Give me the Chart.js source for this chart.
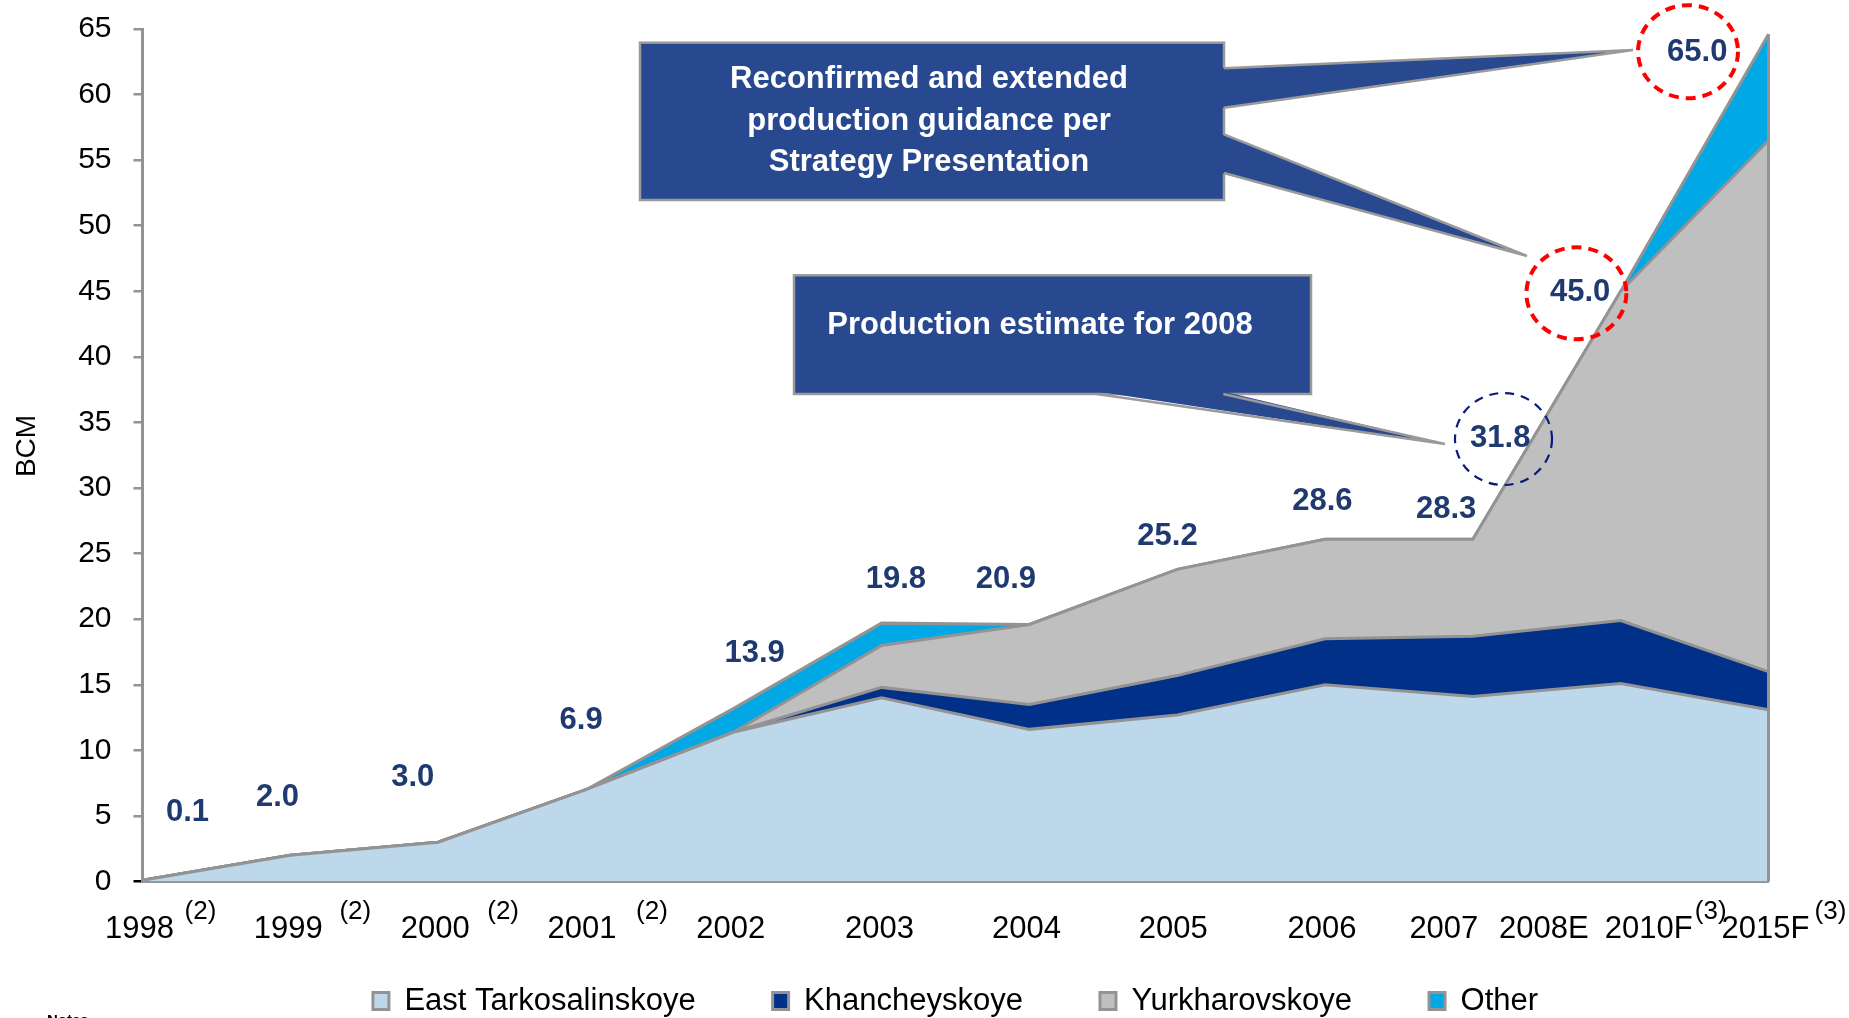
<!DOCTYPE html>
<html>
<head>
<meta charset="utf-8">
<title>Production (BCM)</title>
<script src="https://cdn.jsdelivr.net/npm/chart.js@4.4.1/dist/chart.umd.min.js"></script>
<style>
html,body{margin:0;padding:0;background:#ffffff;overflow:hidden;}
#c{display:block;}
</style>
</head>
<body>
<canvas id="c" width="1849" height="1018" style="width:1849px;height:1018px"></canvas>
<script>
// ---------------- data ----------------
const categories = ['1998','1999','2000','2001','2002','2003','2004','2005','2006','2007','2010F','2015F'];
const eastTarkosalinskoye = [0.1, 2.0, 3.0, 7.0, 11.4, 14.0, 11.6, 12.7, 15.0, 14.1, 15.1, 13.1];
const khancheyskoye       = [0, 0, 0, 0, 0, 0.8, 1.9, 3.0, 3.5, 4.6, 4.8, 2.9];
const yurkharovskoye      = [0, 0, 0, 0, 0, 3.2, 6.1, 8.1, 7.6, 7.4, 25.1, 40.5];
const other               = [0, 0, 0, 0, 1.8, 1.7, 0, 0, 0, 0, 0, 8.1];
const seriesNames = ['East Tarkosalinskoye', 'Khancheyskoye', 'Yurkharovskoye', 'Other'];

// axis tick labels (2008E sits between 2007 and 2010F)
const axisLabels    = ['1998','1999','2000','2001','2002','2003','2004','2005','2006','2007','2008E','2010F','2015F'];
const axisLabelAt   = [0, 1, 2, 3, 4, 5, 6, 7, 8, 9, 9.5, 10, 11];
const axisFootnotes = ['(2)','(2)','(2)','(2)','','','','','','','','(3)','(3)'];
const yMin = 0, yMax = 65, yStep = 5;
const yTitle = 'BCM';

// reported totals written above the areas
const totalLabels = ['0.1','2.0','3.0','6.9','13.9','19.8','20.9','25.2','28.6','28.3','31.8','45.0','65.0'];

// ---------------- layout / style ----------------
const FONT = '"Liberation Sans", Arial, Helvetica, sans-serif';
const LINE_GRAY = '#939393';
const EDGE_GRAY = '#9a9a9a';
const LABEL_NAVY = '#1F3A70';
const BOX_NAVY = '#28488F';
const COLORS = ['#BDD7EB', '#003087', '#BFBFBF', '#00A9E6'];

const PAD_TOP = 29, PLOT_BOTTOM = 881.5, Y_AXIS_W = 142.5, RIGHT_PAD = 80.5;
const LEGEND_H = 60, LEGEND_CY = 1001, LEGEND_FS = 31, LEGEND_PAD = 77;

const axisLabelShift = [-3,-2,-3,-4,-3,-2,-3,-4,-3,-29,-3,28,-3];
const footShift      = [61,67,68,70,0,0,0,0,0,0,0,62,65];
// label anchors in (category index, value) space
const totalLabelAnchor = [
  [0.304, 5.3], [0.913, 6.4], [1.828, 7.9], [2.967, 12.3], [4.141, 17.4],
  [5.097, 23.0], [5.841, 23.0], [6.934, 26.3], [7.982, 29.0], [8.819, 28.4],
  [9.185, 33.8], [9.726, 44.9], [10.518, 63.2]
];

// ---------------- plugins ----------------
const legendPlace = {
  id: 'legendPlace',
  afterLayout(chart) {
    const lg = chart.legend;
    if (!lg) return;
    lg.top = LEGEND_CY - LEGEND_FS / 2 - LEGEND_PAD;
    lg.bottom = chart.height;
  }
};

const edgeLine = {
  id: 'edgeLine',
  afterDatasetsDraw(chart) {
    const {ctx, scales: {x, y}} = chart;
    const last = categories.length - 1;
    const total = eastTarkosalinskoye[last] + khancheyskoye[last] + yurkharovskoye[last] + other[last];
    const px = x.getPixelForValue(last);
    ctx.save();
    ctx.strokeStyle = LINE_GRAY;
    ctx.lineWidth = 3;
    ctx.beginPath();
    ctx.moveTo(px, y.getPixelForValue(0));
    ctx.lineTo(px, y.getPixelForValue(total));
    ctx.stroke();
    ctx.restore();
  }
};

const axisText = {
  id: 'axisText',
  afterDraw(chart) {
    const {ctx, scales: {x}} = chart;
    ctx.save();
    ctx.fillStyle = '#000000';
    ctx.textBaseline = 'middle';
    ctx.textAlign = 'center';
    axisLabels.forEach((lab, i) => {
      const cx = x.getPixelForValue(axisLabelAt[i]) + axisLabelShift[i];
      ctx.font = '31px ' + FONT;
      ctx.fillText(lab, cx, 929.5);
      if (axisFootnotes[i]) {
        ctx.font = '26px ' + FONT;
        ctx.fillText(axisFootnotes[i], cx + footShift[i], 912);
      }
    });
    // y-axis title
    ctx.save();
    ctx.translate(27, 446);
    ctx.rotate(-Math.PI / 2);
    ctx.font = '28px ' + FONT;
    ctx.fillText(yTitle, 0, 0);
    ctx.restore();
    // cut-off notes line at the very bottom
    ctx.textAlign = 'left';
    ctx.textBaseline = 'top';
    ctx.font = 'bold 15px ' + FONT;
    ctx.fillText('Notes', 47, 1013);
    ctx.restore();
  }
};

function wedge(ctx, a, b, tip, inset) {
  ctx.beginPath();
  ctx.moveTo(a[0] - inset[0], a[1] - inset[1]);
  ctx.lineTo(tip[0], tip[1]);
  ctx.lineTo(b[0] - inset[0], b[1] - inset[1]);
  ctx.closePath();
  ctx.fillStyle = BOX_NAVY;
  ctx.fill();
  ctx.beginPath();
  ctx.moveTo(a[0], a[1]); ctx.lineTo(tip[0], tip[1]);
  ctx.moveTo(b[0], b[1]); ctx.lineTo(tip[0], tip[1]);
  ctx.strokeStyle = EDGE_GRAY;
  ctx.lineWidth = 2.5;
  ctx.stroke();
}

function dashedEllipse(ctx, cx, cy, rx, ry, color, lw, dash) {
  ctx.beginPath();
  ctx.setLineDash(dash);
  ctx.ellipse(cx, cy, rx, ry, 0, 0, Math.PI * 2);
  ctx.strokeStyle = color;
  ctx.lineWidth = lw;
  ctx.stroke();
  ctx.setLineDash([]);
}

const annotations = {
  id: 'annotations',
  afterDraw(chart) {
    const {ctx, scales: {x, y}} = chart;
    ctx.save();
    // callout boxes
    ctx.lineWidth = 2.5;
    ctx.strokeStyle = EDGE_GRAY;
    ctx.fillStyle = BOX_NAVY;
    ctx.fillRect(640, 42.7, 584, 157.3);
    ctx.strokeRect(640, 42.7, 584, 157.3);
    ctx.fillRect(794, 275.3, 517, 118.7);
    ctx.strokeRect(794, 275.3, 517, 118.7);
    // pointers
    wedge(ctx, [1224, 68.3], [1224, 107.7], [1633, 50], [2.5, 0]);
    wedge(ctx, [1224, 134.3], [1224, 173], [1527, 256], [2.5, 0]);
    wedge(ctx, [1096.7, 394], [1223.3, 394], [1445, 444], [0, 2.5]);
    // callout text
    ctx.fillStyle = '#ffffff';
    ctx.font = 'bold 31px ' + FONT;
    ctx.textAlign = 'center';
    ctx.textBaseline = 'middle';
    ctx.fillText('Reconfirmed and extended', 929, 79.5);
    ctx.fillText('production guidance per', 929, 121);
    ctx.fillText('Strategy Presentation', 929, 162.5);
    ctx.fillText('Production estimate for 2008', 1040, 325);
    // highlight circles
    dashedEllipse(ctx, 1503.5, 439, 48.5, 46, '#0A1A80', 2.2, [9, 7]);
    dashedEllipse(ctx, 1576.4, 293.3, 50, 46, '#FF0000', 4, [10, 7]);
    dashedEllipse(ctx, 1688, 51.7, 50, 46.5, '#FF0000', 4, [10, 7]);
    // totals
    ctx.fillStyle = LABEL_NAVY;
    ctx.font = 'bold 31px ' + FONT;
    totalLabels.forEach((t, i) => {
      const [ix, v] = totalLabelAnchor[i];
      ctx.fillText(t, x.getPixelForValue(ix), y.getPixelForValue(v));
    });
    ctx.restore();
  }
};

// ---------------- chart ----------------
const seriesData = [eastTarkosalinskoye, khancheyskoye, yurkharovskoye, other];

new Chart(document.getElementById('c'), {
  type: 'line',
  data: {
    labels: categories,
    datasets: seriesData.map((d, i) => ({
      label: seriesNames[i],
      data: d,
      backgroundColor: COLORS[i],
      borderColor: LINE_GRAY,
      borderWidth: 3,
      fill: i === 0 ? 'origin' : '-1',
      pointRadius: 0,
      tension: 0
    }))
  },
  options: {
    responsive: false,
    animation: false,
    devicePixelRatio: 1,
    events: [],
    layout: { padding: { top: PAD_TOP, right: RIGHT_PAD, left: 0, bottom: 0 } },
    plugins: {
      tooltip: { enabled: false },
      legend: {
        display: true,
        position: 'bottom',
        fullSize: false,
        maxHeight: LEGEND_H,
        labels: {
          boxWidth: 16,
          boxHeight: 17,
          padding: LEGEND_PAD,
          color: '#000000',
          font: { size: LEGEND_FS, family: FONT }
        }
      }
    },
    scales: {
      x: {
        type: 'category',
        offset: false,
        grid: { display: false },
        border: { display: true, color: LINE_GRAY, width: 3 },
        ticks: { display: false },
        afterFit(s) { s.height = 1018 - LEGEND_H - PLOT_BOTTOM; }
      },
      y: {
        stacked: true,
        min: yMin,
        max: yMax,
        ticks: { stepSize: yStep, color: '#000000', padding: 22, font: { size: 30, family: FONT } },
        grid: {
          drawOnChartArea: false,
          drawTicks: true,
          tickLength: 9,
          lineWidth: 2.5,
          color: (c) => (c.tick && c.tick.value === 0 ? '#000000' : LINE_GRAY)
        },
        border: { display: true, color: LINE_GRAY, width: 3 },
        title: { display: false },
        afterFit(s) { s.width = Y_AXIS_W; s.paddingTop = 0; s.paddingBottom = 0; }
      }
    }
  },
  plugins: [legendPlace, edgeLine, axisText, annotations]
});
</script>
</body>
</html>
